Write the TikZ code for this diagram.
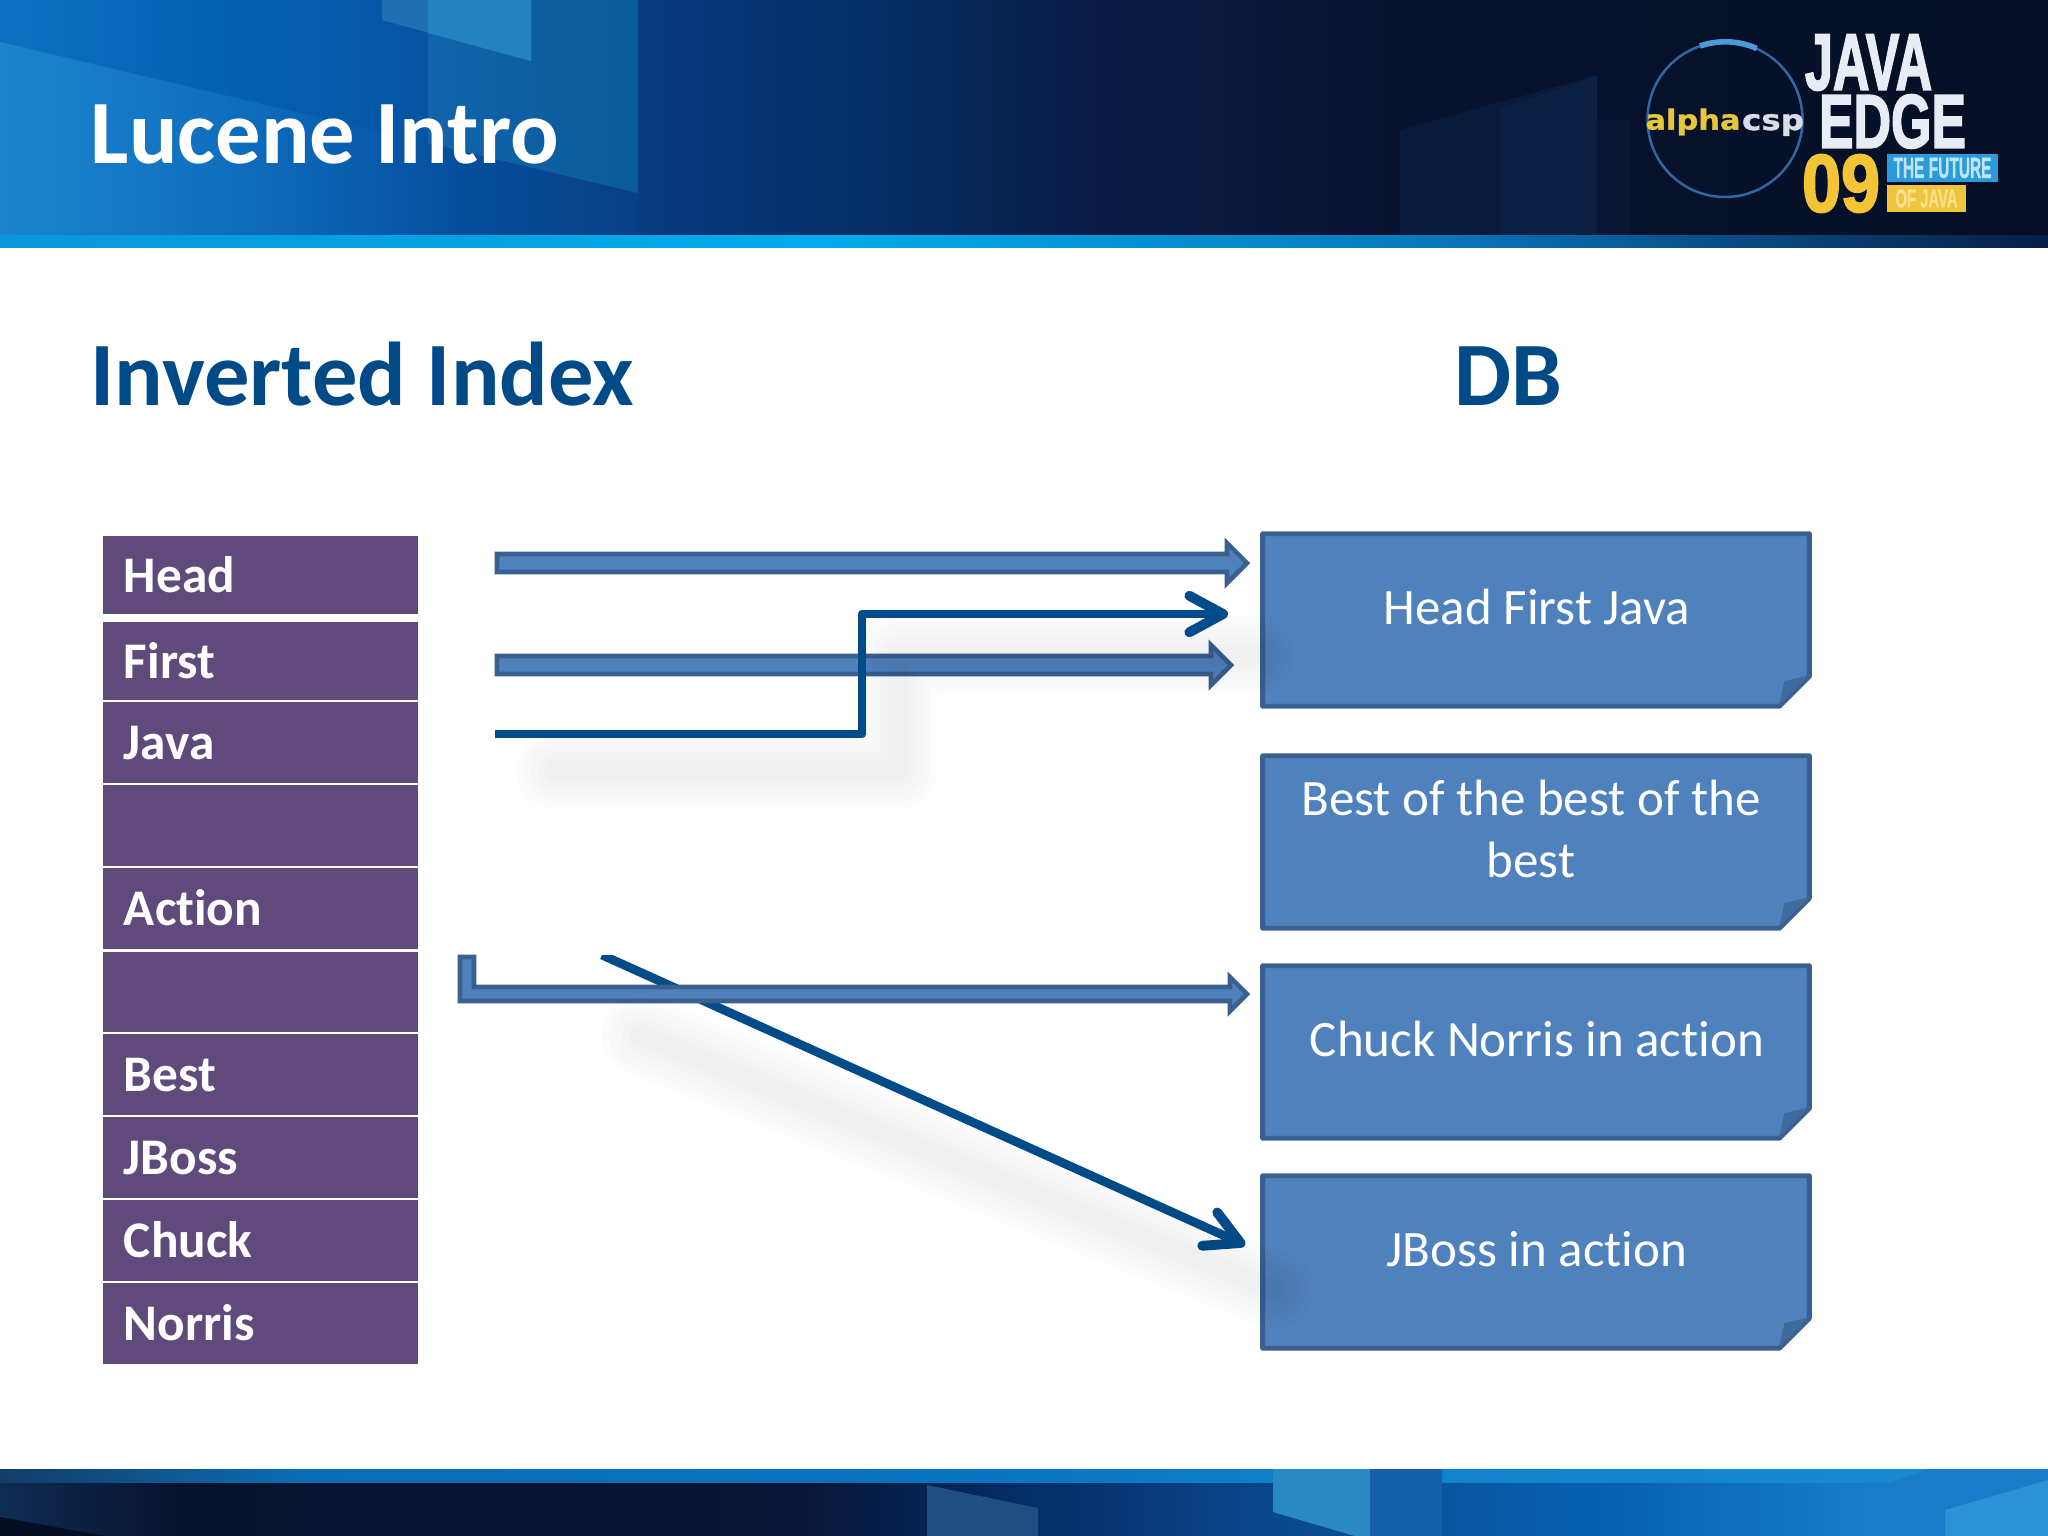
\documentclass[tikz,border=0pt]{standalone}
\usepackage{fontspec}
\usepackage{graphicx}
\setmainfont[Ligatures=CommonOff]{Carlito}
\newfontfamily\logofont[FakeBold=2.5]{Liberation Sans}
\newfontfamily\logosmall[FakeBold=1]{Liberation Sans}
\newfontfamily\logowide[FakeBold=1]{DejaVu Sans}
\usetikzlibrary{calc,arrows.meta}
\definecolor{titleblue}{HTML}{004B87}
\definecolor{cellpurple}{HTML}{604A7B}
\definecolor{boxfill}{HTML}{4F81BD}
\definecolor{boxline}{HTML}{3A6090}
\definecolor{foldfill}{HTML}{3F6A9C}
\definecolor{connblue}{HTML}{004B8A}
\definecolor{hA}{HTML}{0D70C0}\definecolor{hB}{HTML}{0562B4}\definecolor{hC}{HTML}{0556A6}
\definecolor{hD}{HTML}{073C80}\definecolor{hE}{HTML}{052B62}\definecolor{hF}{HTML}{0A1C44}
\definecolor{hG}{HTML}{07122E}\definecolor{hH}{HTML}{060F25}
\definecolor{lA}{HTML}{1A84CC}\definecolor{lB}{HTML}{1476C4}\definecolor{lC}{HTML}{0B65B6}
\definecolor{lD}{HTML}{064F9E}\definecolor{lE}{HTML}{073F84}
\definecolor{sA}{HTML}{0A96DC}\definecolor{sB}{HTML}{00ACEC}\definecolor{sC}{HTML}{0878BE}\definecolor{sD}{HTML}{081E46}
\definecolor{fA}{HTML}{0E2C52}\definecolor{fB}{HTML}{07122E}\definecolor{fC}{HTML}{071636}
\definecolor{fD}{HTML}{052B62}\definecolor{fE}{HTML}{0A4A90}\definecolor{fF}{HTML}{0560B0}
\definecolor{fG}{HTML}{1A80CC}\definecolor{fH}{HTML}{2A90D8}
\definecolor{gA}{HTML}{123C68}\definecolor{gB}{HTML}{0F5288}\definecolor{gC}{HTML}{0A6CB4}
\definecolor{gD}{HTML}{0A74C0}\definecolor{gE}{HTML}{1080C8}\definecolor{gF}{HTML}{1A8CD4}
\definecolor{bandL}{HTML}{1065AC}\definecolor{bandR}{HTML}{0A5A98}
\definecolor{topA}{HTML}{1E70B2}\definecolor{topB}{HTML}{2482C2}
\definecolor{rA}{HTML}{0A1A3A}\definecolor{rB}{HTML}{0C2044}\definecolor{rC}{HTML}{0A1734}
\definecolor{ftDark}{HTML}{060E24}\definecolor{ftA}{HTML}{1F4F80}\definecolor{ftB}{HTML}{1560A8}
\definecolor{ftC}{HTML}{2A88C4}\definecolor{ftD}{HTML}{1A7CC8}\definecolor{ftE}{HTML}{2C93D6}
\definecolor{ringA}{HTML}{2F68A4}\definecolor{ringB}{HTML}{4C98D8}
\definecolor{futureBlue}{HTML}{2A9AD8}\definecolor{ofYellow}{HTML}{EEC53C}
\pgfdeclarehorizontalshading{hdrbase}{100bp}{color(0bp)=(hA);color(25bp)=(hA);color(29.88bp)=(hB);
 color(34.77bp)=(hC);color(40.63bp)=(hD);color(46.97bp)=(hE);color(51.85bp)=(hF);color(59.18bp)=(hG);
 color(75bp)=(hH);color(100bp)=(hH)}
\pgfdeclarehorizontalshading{hdrlow}{100bp}{color(0bp)=(lA);color(25bp)=(lA);color(36.8bp)=(lB);
 color(48.5bp)=(lC);color(60.3bp)=(lD);color(75bp)=(lE);color(100bp)=(lE)}
\pgfdeclarehorizontalshading{hdrstrip}{100bp}{color(0bp)=(sA);color(25bp)=(sA);color(45bp)=(sB);
 color(60bp)=(sC);color(75bp)=(sD);color(100bp)=(sD)}
\pgfdeclarehorizontalshading{ftrbase}{100bp}{color(0bp)=(fA);color(25bp)=(fA);color(29.4bp)=(fB);
 color(44.5bp)=(fC);color(49.4bp)=(fD);color(56.7bp)=(fE);color(64bp)=(fF);color(71.4bp)=(fG);
 color(75bp)=(fH);color(100bp)=(fH)}
\pgfdeclarehorizontalshading{ftrstrip}{100bp}{color(0bp)=(gA);color(25bp)=(gA);color(28.2bp)=(gB);
 color(32.3bp)=(gC);color(49.4bp)=(gD);color(56.7bp)=(gE);color(75bp)=(gF);color(100bp)=(gF)}
\tikzset{
  x=0.01cm,y=-0.01cm,
  slidetitle/.style={anchor=base west,inner sep=0pt,font=\fontsize{25.75pt}{30pt}\selectfont\bfseries},
  indexcell/.style={fill=cellpurple,text=white,inner ysep=0pt,inner xsep=0.21cm,minimum width=3.15cm,
     text width=2.73cm,align=left,text height=0.34cm,text depth=0pt,
     font=\fontsize{14.6pt}{17pt}\selectfont\bfseries},
  bookframe/.style={minimum width=5.45cm,minimum height=1.71cm,inner sep=0pt},
  bookshape/.style={fill=boxfill,draw=boxline,line width=1.4pt,line join=round},
  foldshape/.style={fill=foldfill,draw=none},
  booklabel/.style={text=white,align=center,inner sep=0pt,font=\fontsize{14.5pt}{17.4pt}\selectfont},
  blockarrow/.style={fill=boxfill,draw=boxline,line width=1.3pt,line join=miter},
  conn/.style={draw=connblue,line width=2.5pt,line join=round,
     -{Straight Barb[length=9.6pt,width=10.4pt,line width=2.8pt,round]}},
  logopiece/.style={inner sep=0pt,anchor=center},
}
\newcommand{\indexrow}[4]{%
  \pgfmathsetmacro{\rowmid}{(#2+#3)/2}\pgfmathsetmacro{\rowh}{(#3-#2)*0.01}%
  \node[indexcell,minimum height=\rowh cm] (#1) at (260.5,\rowmid) {#4};}
\newcommand{\bookbox}[4]{%
  \pgfmathsetmacro{\boxmid}{#2+88}%
  \node[bookframe] (#1) at (1536,\boxmid) {};
  \draw[bookshape] (#1.north west) -- (#1.north east) -- ($(#1.south east)+(0,-30)$)
     -- ($(#1.south east)+(-30,0)$) -- (#1.south west) -- cycle;
  \fill[foldshape] ($(#1.south east)+(-30,-2)$) -- ($(#1.south east)+(-25,-25)$)
     -- ($(#1.south east)+(0,-31)$) -- cycle;
  \node[booklabel] (#1text) at ($(#1.center)+(#3)$) {#4};}
\newcommand{\blockarrowpath}[5]{%
  \draw[blockarrow] ($(#1)+(0,-#3)$) -- ($(#2)+(-#4,-#3)$) -- ($(#2)+(-#4,-#5)$) -- (#2)
     -- ($(#2)+(-#4,#5)$) -- ($(#2)+(-#4,#3)$) -- ($(#1)+(0,#3)$) -- cycle;}
\newcommand{\softshadow}[1]{%
  \foreach \sw in {22,18,14,10,6}{%
    \draw[black,opacity=0.01,line width=\sw pt,line cap=round,line join=round] #1;}}
\begin{document}
\begin{tikzpicture}
\useasboundingbox (0,0) rectangle (2048,1536);
\fill[white] (0,0) rectangle (2048,1536);
% header
\shade[shading=hdrbase] (0,0) rectangle (2048,235);
\shade[shading=hdrlow] (0,42) -- (638,193) -- (638,235) -- (0,235) -- cycle;
\shade[left color=bandL,right color=bandR] (428,0) -- (638,0) -- (638,193) -- (428,143) -- cycle;
\fill[topA] (382,0) -- (531,0) -- (531,61) -- (382,20) -- cycle;
\fill[topB] (428,0) -- (531,0) -- (531,61) -- (428,33) -- cycle;
\fill[rA] (1400,130) -- (1597,75) -- (1597,235) -- (1400,235) -- cycle;
\fill[rB] (1500,110) -- (1597,75) -- (1597,235) -- (1500,235) -- cycle;
\fill[rC] (1597,120) -- (1630,120) -- (1630,235) -- (1597,235) -- cycle;
\shade[shading=hdrstrip] (0,235) rectangle (2048,247);
% footer
\shade[shading=ftrbase] (0,1482) rectangle (2048,1536);
\shade[shading=ftrstrip] (0,1469) rectangle (2048,1482);
\fill[ftDark] (0,1517) -- (105,1536) -- (0,1536) -- cycle;
\fill[ftA] (927,1485) -- (1038,1508) -- (1038,1536) -- (927,1536) -- cycle;
\fill[ftB] (1273,1469) -- (1442,1469) -- (1442,1536) -- (1355,1536) -- (1273,1512) -- cycle;
\fill[ftC] (1273,1469) -- (1370,1469) -- (1370,1536) -- (1355,1536) -- (1273,1512) -- cycle;
\fill[ftD] (1867,1490) -- (1930,1469) -- (2048,1469) -- (2048,1536) -- (1867,1536) -- cycle;
\fill[ftE] (1945,1510) -- (2048,1480) -- (2048,1536) -- (1945,1536) -- cycle;
% logo
\draw[ringA,line width=0.7pt] (1725,119.5) circle (77.5);
\draw[ringB,line width=1.6pt] (1700,46) arc (-109:-66:77.5);
\node[logopiece] (logoalpha) at (1693,122) {\resizebox{0.95cm}{0.21cm}{\logowide\bfseries\color[HTML]{E6C63C}alpha}};
\node[logopiece] (logocsp) at (1773,125) {\resizebox{0.62cm}{0.16cm}{\logowide\bfseries\color[HTML]{D8DCE4}csp}};
\node[logopiece] (logojava) at (1868.5,62.5) {\resizebox{1.27cm}{0.55cm}{\logofont\bfseries\color[HTML]{E8ECF5}JAVA}};
\node[logopiece] (logoedge) at (1892.5,121.5) {\resizebox{1.47cm}{0.53cm}{\logofont\bfseries\color[HTML]{E8ECF5}EDGE}};
\node[logopiece] (logonine) at (1841,183.5) {\resizebox{0.78cm}{0.57cm}{\logofont\bfseries\color[HTML]{F2C436}09}};
\node[logopiece,fill=futureBlue,minimum width=1.11cm,minimum height=0.28cm] (logofuture) at (1942.5,168) {\resizebox{0.98cm}{0.2cm}{\logosmall\bfseries\color[HTML]{BFE4F5}THE FUTURE}};
\node[logopiece,fill=ofYellow,minimum width=0.79cm,minimum height=0.27cm] (logoofjava) at (1926.5,198.5) {\resizebox{0.62cm}{0.18cm}{\logosmall\bfseries\color[HTML]{F8E08A}OF JAVA}};
% titles
\node[slidetitle,text=white] (title) at (90,163) {Lucene Intro};
\node[slidetitle,text=titleblue] (leftheading) at (90,405) {Inverted Index};
\node[slidetitle,text=titleblue] (rightheading) at (1454,405) {DB};
% index
\indexrow{cHead}{536}{614}{Head}
\indexrow{cFirst}{622}{700}{First}
\indexrow{cJava}{702}{783}{Java}
\indexrow{cBlankA}{785}{866}{}
\indexrow{cAction}{868}{949}{Action}
\indexrow{cBlankB}{952}{1032}{}
\indexrow{cBest}{1034}{1115}{Best}
\indexrow{cJBoss}{1117}{1198}{JBoss}
\indexrow{cChuck}{1200}{1281}{Chuck}
\indexrow{cNorris}{1283}{1364}{Norris}
% books
\bookbox{bHead}{532}{1,-13}{Head First Java}
\bookbox{bBest}{754}{-5,-13}{Best of the best of the\\best}
\bookbox{bChuck}{964}{1,-13}{Chuck Norris in action}
\bookbox{bJBoss}{1174}{1,-13}{JBoss in action}
% connector ends
\coordinate (aOneS) at (497,563);   \coordinate (aOneE) at (1247,563);
\coordinate (aTwoS) at (497,665);   \coordinate (aTwoE) at (1231,665);
\coordinate (jOut) at (495,734);    \coordinate (jTurn) at (862,614);  \coordinate (jIn) at (1228,614);
\coordinate (dOut) at (602,955);    \coordinate (dIn) at (1245,1245);
% diagonal, cut at its top edge
\begin{scope}
  \clip (440,955) rectangle (1300,1300);
  \draw[conn] (dOut) -- (dIn);
\end{scope}
% elbow block arrow
\draw[blockarrow] (460,957) -- (474,957) -- (474,987) -- (1230,987) -- (1230,977) -- (1247,994)
   -- (1230,1011) -- (1230,1001) -- (460,1001) -- cycle;
\blockarrowpath{aOneS}{aOneE}{9}{20}{20}
\blockarrowpath{aTwoS}{aTwoE}{9}{20}{20}
% soft shadows
\softshadow{(555,770) -- (898,770) -- (898,655) -- (1255,655)}
\softshadow{(640,1035) -- (1275,1290)}
% elbow connector
\draw[conn] (jOut) -| (jTurn) -- (jIn);
\end{tikzpicture}
\end{document}
